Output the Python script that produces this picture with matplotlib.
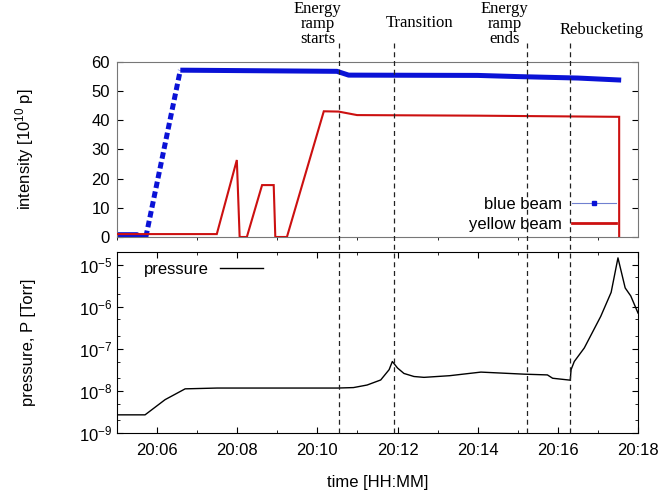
import matplotlib
matplotlib.use("Agg")
import matplotlib.pyplot as plt
from matplotlib.ticker import FixedLocator, LogLocator, NullFormatter, FuncFormatter
from matplotlib.transforms import blended_transform_factory

plt.rcParams["font.family"] = ["Liberation Sans", "DejaVu Sans"]
plt.rcParams["mathtext.default"] = "regular"

# time is minutes after 20:00
blue_t = [5.0, 5.5, 5.55, 5.72, 6.58, 10.49, 10.78, 14.0, 15.0, 16.5, 17.58]
blue_v = [0.8, 0.8, 0.0, 0.0, 57.2, 56.8, 55.5, 55.4, 55.0, 54.5, 53.8]

red_t = [5.0, 7.49, 7.99, 8.06, 8.24, 8.62, 8.91, 8.95, 9.24, 10.16, 10.53, 10.99,
         14.0, 17.53, 17.53]
red_v = [1.0, 1.0, 26.4, 0.0, 0.0, 17.8, 17.8, 0.0, 0.0, 43.1, 43.0, 41.8,
         41.6, 41.2, 0.0]

p_t = [5.0, 5.7, 6.2, 6.7, 7.5, 9.0, 10.5, 10.9, 11.24, 11.58, 11.79, 11.87,
       12.0, 12.16, 12.41, 12.66, 13.3, 14.08, 15.16, 15.74, 15.87, 16.31,
       16.33, 16.41, 16.66, 17.07, 17.33, 17.5, 17.68, 17.82, 18.0]
p_val = [2.7e-9, 2.7e-9, 6.2e-9, 1.12e-8, 1.17e-8, 1.17e-8, 1.17e-8, 1.2e-8,
         1.38e-8, 1.82e-8, 3.2e-8, 5.0e-8, 3.5e-8, 2.6e-8, 2.2e-8, 2.1e-8,
         2.3e-8, 2.8e-8, 2.5e-8, 2.4e-8, 2.0e-8, 1.8e-8, 3.2e-8, 5.0e-8,
         1.05e-7, 5.9e-7, 2.2e-6, 1.45e-5, 2.8e-6, 1.8e-6, 7.1e-7]

events_t = [10.55, 11.9, 15.22, 16.3]
events_label = ["Energy\nramp\nstarts", "Transition", "Energy\nramp\nends", "Rebucketing"]
events_text_t = [10.0, 12.55, 14.67, 17.1]
events_text_y = [24, 23, 24, 30]  # pixels from top

major_ticks = [6, 8, 10, 12, 14, 16, 18]
tick_labels = ["20:06", "20:08", "20:10", "20:12", "20:14", "20:16", "20:18"]

W, H = 662, 499
fig = plt.figure(figsize=(W / 100, H / 100), dpi=100)
L, R = 117 / W, 638 / W
ax1 = fig.add_axes([L, 1 - 237 / H, R - L, (237 - 62) / H])
ax2 = fig.add_axes([L, 1 - 433 / H, R - L, (433 - 252) / H], sharex=ax1)

blue = "#0a12d6"
red = "#cc1010"

# top panel: beam intensity
ax1.plot(red_t, red_v, color=red, lw=1.5, zorder=3, solid_joinstyle="miter")
ax1.plot(blue_t[:4], blue_v[:4], color=blue, lw=3.6, solid_capstyle="butt", zorder=2)
ax1.plot(blue_t[3:5], blue_v[3:5], color=blue, lw=3.6, linestyle=(0, (1.3, 0.7)),
         dash_capstyle="butt", zorder=2)
ax1.plot(blue_t[4:], blue_v[4:], color=blue, lw=3.6, solid_capstyle="butt", zorder=2)
ax1.plot([], [], color="#7080d0", lw=0.8, marker="s", ms=3.5, mfc=blue, mec=blue,
         label="blue beam")
ax1.plot([], [], color=red, lw=2, label="yellow beam")
ax1.set_ylim(0, 60)
ax1.set_yticks(range(0, 61, 10))
ax1.tick_params(axis="y", direction="in", length=4, right=True, labelsize=12, pad=5)
ax1.tick_params(axis="x", bottom=False, labelbottom=False)
for s in ax1.spines.values():
    s.set_color("#777777")
ax1.set_ylabel("intensity [10$^{10}$ p]", fontsize=12)
ax1.yaxis.set_label_coords(-0.155, 0.5)
ax1.legend(loc="lower right", bbox_to_anchor=(0.97, -0.01), frameon=False,
           markerfirst=False, fontsize=12, handlelength=2.6, labelspacing=0.3,
           handletextpad=0.6, borderaxespad=0)

# bottom panel: pressure
ax2.plot(p_t, p_val, color="black", lw=1.0, label="pressure")
ax2.set_yscale("log")
ax2.set_ylim(1e-9, 2e-5)
ax2.yaxis.set_major_locator(LogLocator(base=10, numticks=10))
ax2.yaxis.set_minor_locator(LogLocator(base=10, subs=(2, 5), numticks=10))
ax2.yaxis.set_minor_formatter(NullFormatter())
ax2.set_xlim(5, 18)
ax2.xaxis.set_major_locator(FixedLocator(major_ticks))
ax2.xaxis.set_minor_locator(FixedLocator(list(range(5, 19))))
ax2.xaxis.set_major_formatter(FuncFormatter(lambda v, pos: tick_labels[major_ticks.index(int(round(v)))]
                                            if int(round(v)) in major_ticks else ""))
ax2.tick_params(which="major", direction="in", length=4, top=True, right=True,
                labelsize=12)
ax2.tick_params(which="minor", direction="in", length=2, top=True, right=True)
ax2.tick_params(axis="x", pad=7)
ax2.set_ylabel("pressure, P [Torr]", fontsize=12)
ax2.yaxis.set_label_coords(-0.155, 0.5)
ax2.legend(loc="upper left", bbox_to_anchor=(0.038, 0.98), frameon=False,
           markerfirst=False, fontsize=12, handlelength=2.6, handletextpad=0.7,
           borderaxespad=0)
fig.text((L + R) / 2, 1 - 482 / H, "time [HH:MM]", ha="center", va="center",
         fontsize=12)

# event markers across both panels
tr = blended_transform_factory(ax2.transData, fig.transFigure)
for t in events_t:
    ax2.plot([t, t], [1 - 433 / H, 1 - 40 / H], transform=tr, clip_on=False,
             color="#222222", lw=0.9, linestyle=(0, (4, 3)), zorder=5)
for t, lab, y in zip(events_text_t, events_label, events_text_y):
    fig.text(t, 1 - y / H, lab, transform=tr, ha="center", va="center",
             fontsize=12, linespacing=0.95, family=["Liberation Serif", "DejaVu Serif"])

fig.savefig("out.png", dpi=100)
